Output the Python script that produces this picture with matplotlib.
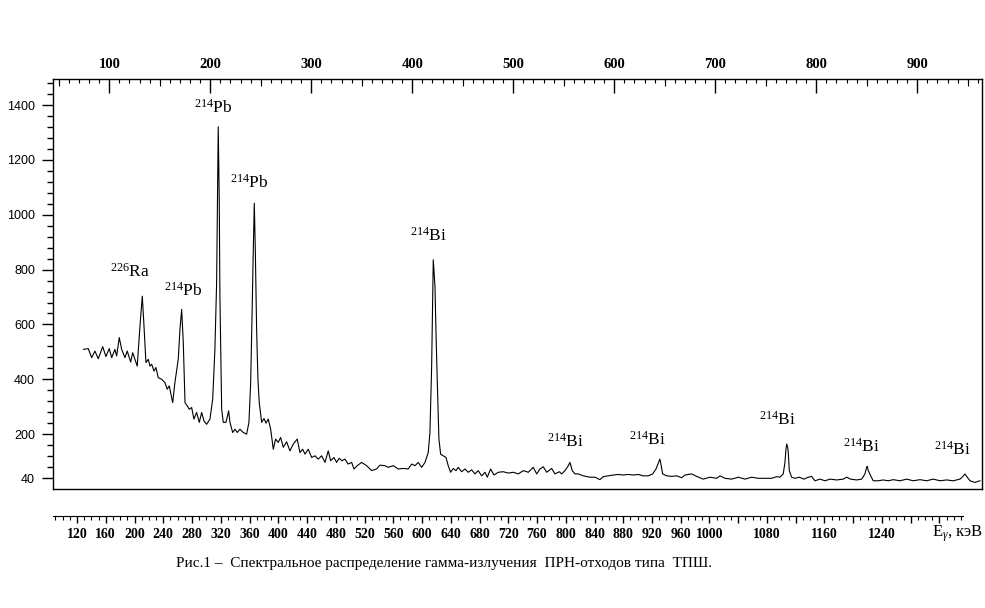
# gamma spectrum of waste sample
import numpy as np
import matplotlib
matplotlib.use("Agg")
from matplotlib import pyplot as plt

plt.rcParams['font.family'] = ['Liberation Serif', 'DejaVu Serif']
plt.rcParams['mathtext.fontset'] = 'custom'
plt.rcParams['mathtext.rm'] = 'Liberation Serif'
plt.rcParams['mathtext.it'] = 'Liberation Serif:italic'

# channel number (top axis) and counts
channel = [
    74.6, 79.2, 82.6, 85.8, 89.1, 93.5, 96.7, 100.0, 102.4, 105.6,
    107.3, 109.9, 112.3, 115.5, 117.8, 121.2, 123.2, 127.7, 130.4, 132.7,
    134.4, 136.3, 138.6, 140.3, 142.0, 144.3, 146.2, 148.5, 151.9, 155.1,
    157.4, 159.4, 162.8, 165.0, 168.3, 170.0, 171.7, 173.3, 175.0, 177.2,
    179.2, 181.6, 183.8, 186.5, 189.1, 191.5, 193.8, 196.4, 199.7, 202.4,
    204.6, 206.3, 207.1, 207.9, 208.9, 209.6, 211.3, 212.9, 215.6, 218.2,
    219.5, 222.2, 224.5, 226.7, 229.4, 232.7, 236.0, 238.3, 240.0, 241.3,
    242.6, 243.6, 244.6, 245.9, 247.2, 248.5, 250.9, 253.2, 255.2, 257.4,
    259.8, 262.4, 264.7, 267.3, 269.7, 272.3, 275.6, 278.9, 282.2, 286.1,
    288.8, 291.5, 293.8, 297.0, 300.4, 303.7, 306.9, 310.3, 313.6, 316.8,
    319.2, 322.5, 325.1, 327.7, 330.4, 333.3, 336.6, 340.0, 342.3, 345.5,
    349.9, 354.8, 359.8, 364.7, 368.0,
    373.0, 376.3, 381.2, 386.1, 391.1, 396.0, 399.4, 402.7, 405.9, 409.3,
    412.6, 415.8, 417.5, 419.2, 420.2, 420.8, 422.5, 423.5, 424.8, 426.4,
    428.1, 430.7, 433.4, 435.6, 438.0, 440.6, 443.3, 445.5, 448.9, 452.2,
    455.4, 458.8, 462.1, 465.3, 468.7, 472.0, 474.3, 477.6, 480.9, 485.2,
    490.1, 495.1, 500.0, 505.0, 509.9, 514.9, 519.8, 523.2, 526.4, 529.7,
    533.1, 538.0, 541.3, 545.6, 548.0, 551.2, 554.5, 556.1, 558.4, 561.1,
    564.4, 569.3, 575.9, 580.9, 585.8, 589.1, 594.1, 599.0, 604.0, 608.9,
    613.9, 618.8, 623.8, 628.7, 633.7, 638.0, 641.3, 643.9, 645.2, 646.5,
    647.9, 651.9, 656.8, 661.8, 666.7, 670.0,
    676.6, 681.6, 688.1, 694.8, 701.4, 704.7, 709.6, 716.2, 722.8, 729.4,
    736.0, 742.6, 749.2, 755.8, 760.8, 764.1, 767.3, 769.0, 770.0, 770.7,
    771.7, 772.3, 773.3, 775.6, 778.9, 783.2, 787.8, 792.1, 795.4, 798.7,
    803.7, 808.6, 813.6, 820.2, 826.7, 830.1, 834.0, 840.0, 845.0, 848.2,
    849.9, 850.5, 851.5, 853.9, 856.4, 861.4, 866.3, 871.3, 876.2, 882.9,
    889.5, 896.0, 902.7, 909.3, 915.8, 922.5, 929.1, 935.6, 942.3, 945.0,
    947.2, 949.5, 952.2, 957.1, 962.1,
]
counts = [
    509, 512, 479, 503, 475, 519, 483, 512, 479, 509,
    485, 552, 509, 479, 503, 463, 497, 448, 594, 703,
    594, 461, 473, 448, 455, 430, 443, 406, 400, 388,
    364, 376, 315, 388, 473, 582, 655, 533, 315, 303,
    291, 297, 255, 279, 243, 279, 248, 236, 255, 327,
    509, 752, 1054, 1321, 1054, 691, 291, 243, 243, 285,
    243, 206, 218, 206, 218, 206, 200, 243, 388, 618,
    873, 1042, 873, 582, 400, 315, 243, 257, 240, 255,
    218, 145, 182, 170, 188, 152, 172, 139, 164, 182,
    133, 145, 127, 145, 115, 121, 109, 121, 97, 139,
    103, 115, 97, 112, 103, 109, 91, 97, 73, 85,
    97, 85, 67, 73, 87,
    85, 79, 85, 73, 75, 73, 91, 85, 97, 79,
    97, 133, 206, 448, 691, 836, 739, 570, 388, 182,
    127, 121, 115, 85, 61, 75, 67, 79, 63, 73,
    61, 70, 55, 67, 48, 61, 43, 73, 51, 61,
    63, 58, 61, 55, 67, 61, 79, 55, 73, 81,
    61, 75, 55, 63, 55, 67, 85, 97, 67, 55,
    55, 48, 43, 43, 34, 45, 48, 51, 53, 51,
    53, 51, 53, 48, 48, 55, 73, 97, 109, 85,
    55, 48, 46, 48, 41, 51,
    55, 46, 36, 43, 39, 48, 39, 36, 43, 36,
    43, 39, 39, 39, 45, 43, 55, 97, 145, 164,
    152, 133, 67, 43, 39, 43, 36, 43, 46, 30,
    36, 30, 36, 33, 36, 43, 36, 33, 36, 55,
    79, 83, 67, 48, 30, 30, 33, 30, 34, 30,
    36, 30, 34, 30, 36, 30, 33, 30, 36, 45,
    55, 43, 30, 24, 30,
]

# peak labels
peak_labels = [r'$^{226}$Ra', r'$^{214}$Pb', r'$^{214}$Pb', r'$^{214}$Pb',
               r'$^{214}$Bi', r'$^{214}$Bi', r'$^{214}$Bi', r'$^{214}$Bi',
               r'$^{214}$Bi', r'$^{214}$Bi']
peak_ch = [120.5, 173.0, 202.7, 238.3, 416.5, 551.2, 632.4, 762.0, 844.3, 935.3]
peak_y = [793, 724, 1389, 1116, 924, 171, 178, 251, 153, 142]

# energy scale (bottom)
energy_ticks = list(range(120, 1001, 40)) + [1080, 1160, 1240]

count_ticks = [40, 200, 400, 600, 800, 1000, 1200, 1400]

W, H = 985, 608
fig = plt.figure(figsize=(W / 100, H / 100), dpi=100)

# main spectrum
ax = fig.add_axes([53 / W, (H - 489) / H, 929 / W, 410 / H])
ax.plot(channel, counts, color='black', linewidth=0.8)
ax.set_xlim(44.3, 964.1)
ax.set_ylim(0, 1495)

for sp in ax.spines.values():
    sp.set_linewidth(1.0)

# top axis: channels
ax.xaxis.set_ticks_position('top')
ax.set_xticks(np.arange(100, 901, 100))
ax.set_xticks(np.arange(50, 961, 10), minor=True)
ax.tick_params(axis='x', which='major', direction='in', length=10, width=1,
               pad=6, labelsize=10.5)
ax.tick_params(axis='x', which='minor', direction='in', length=3, width=0.8)
for t in ax.get_xticklabels():
    t.set_fontweight('bold')
sec = ax.secondary_xaxis('top')
sec.set_xticks(np.arange(50, 951, 100))
sec.set_xticklabels([])
sec.tick_params(direction='in', length=5, width=0.8)
sec.spines['top'].set_visible(False)

# left axis: counts
ax.set_yticks(count_ticks)
ax.set_yticks([v for v in range(40, 1481, 40) if v not in count_ticks], minor=True)
ax.tick_params(axis='y', which='major', direction='out', length=8, width=1,
               pad=5)
ax.tick_params(axis='y', which='minor', direction='out', length=4.3, width=1)
for t in ax.get_yticklabels():
    t.set_fontfamily('Liberation Sans')
    t.set_fontsize(9)

for lab, cx, cy in zip(peak_labels, peak_ch, peak_y):
    ax.text(cx, cy, lab, ha='center', va='center', fontsize=12.5)

# separate energy axis below the plot
ax2 = fig.add_axes([53 / W, (H - 516) / H, 910 / W, 0.0001])
ax2.patch.set_visible(False)
for s in ['top', 'left', 'right']:
    ax2.spines[s].set_visible(False)
ax2.set_yticks([])
ax2.set_xlim(86.6, 1352.7)
ax2.set_xticks(np.arange(120, 1321, 40))
ax2.set_xticklabels([str(e) if e in energy_ticks else '' for e in range(120, 1321, 40)])
ax2.set_xticks(np.arange(90, 1351, 10), minor=True)
ax2.tick_params(axis='x', which='major', direction='out', length=5, width=1,
                pad=4, labelsize=10)
ax2.tick_params(axis='x', which='minor', direction='out', length=3, width=0.8)
for t in ax2.get_xticklabels():
    t.set_fontweight('bold')

fig.text(958 / W, 1 - 534 / H, r'E$_{\gamma}$, кэВ', ha='center', va='center',
         fontsize=12)

fig.text(176 / W, 1 - 563 / H,
         'Рис.1 –  Спектральное распределение гамма-излучения  ПРН-отходов типа  ТПШ.',
         ha='left', va='center', fontsize=11)

fig.savefig('out.png', dpi=100)
